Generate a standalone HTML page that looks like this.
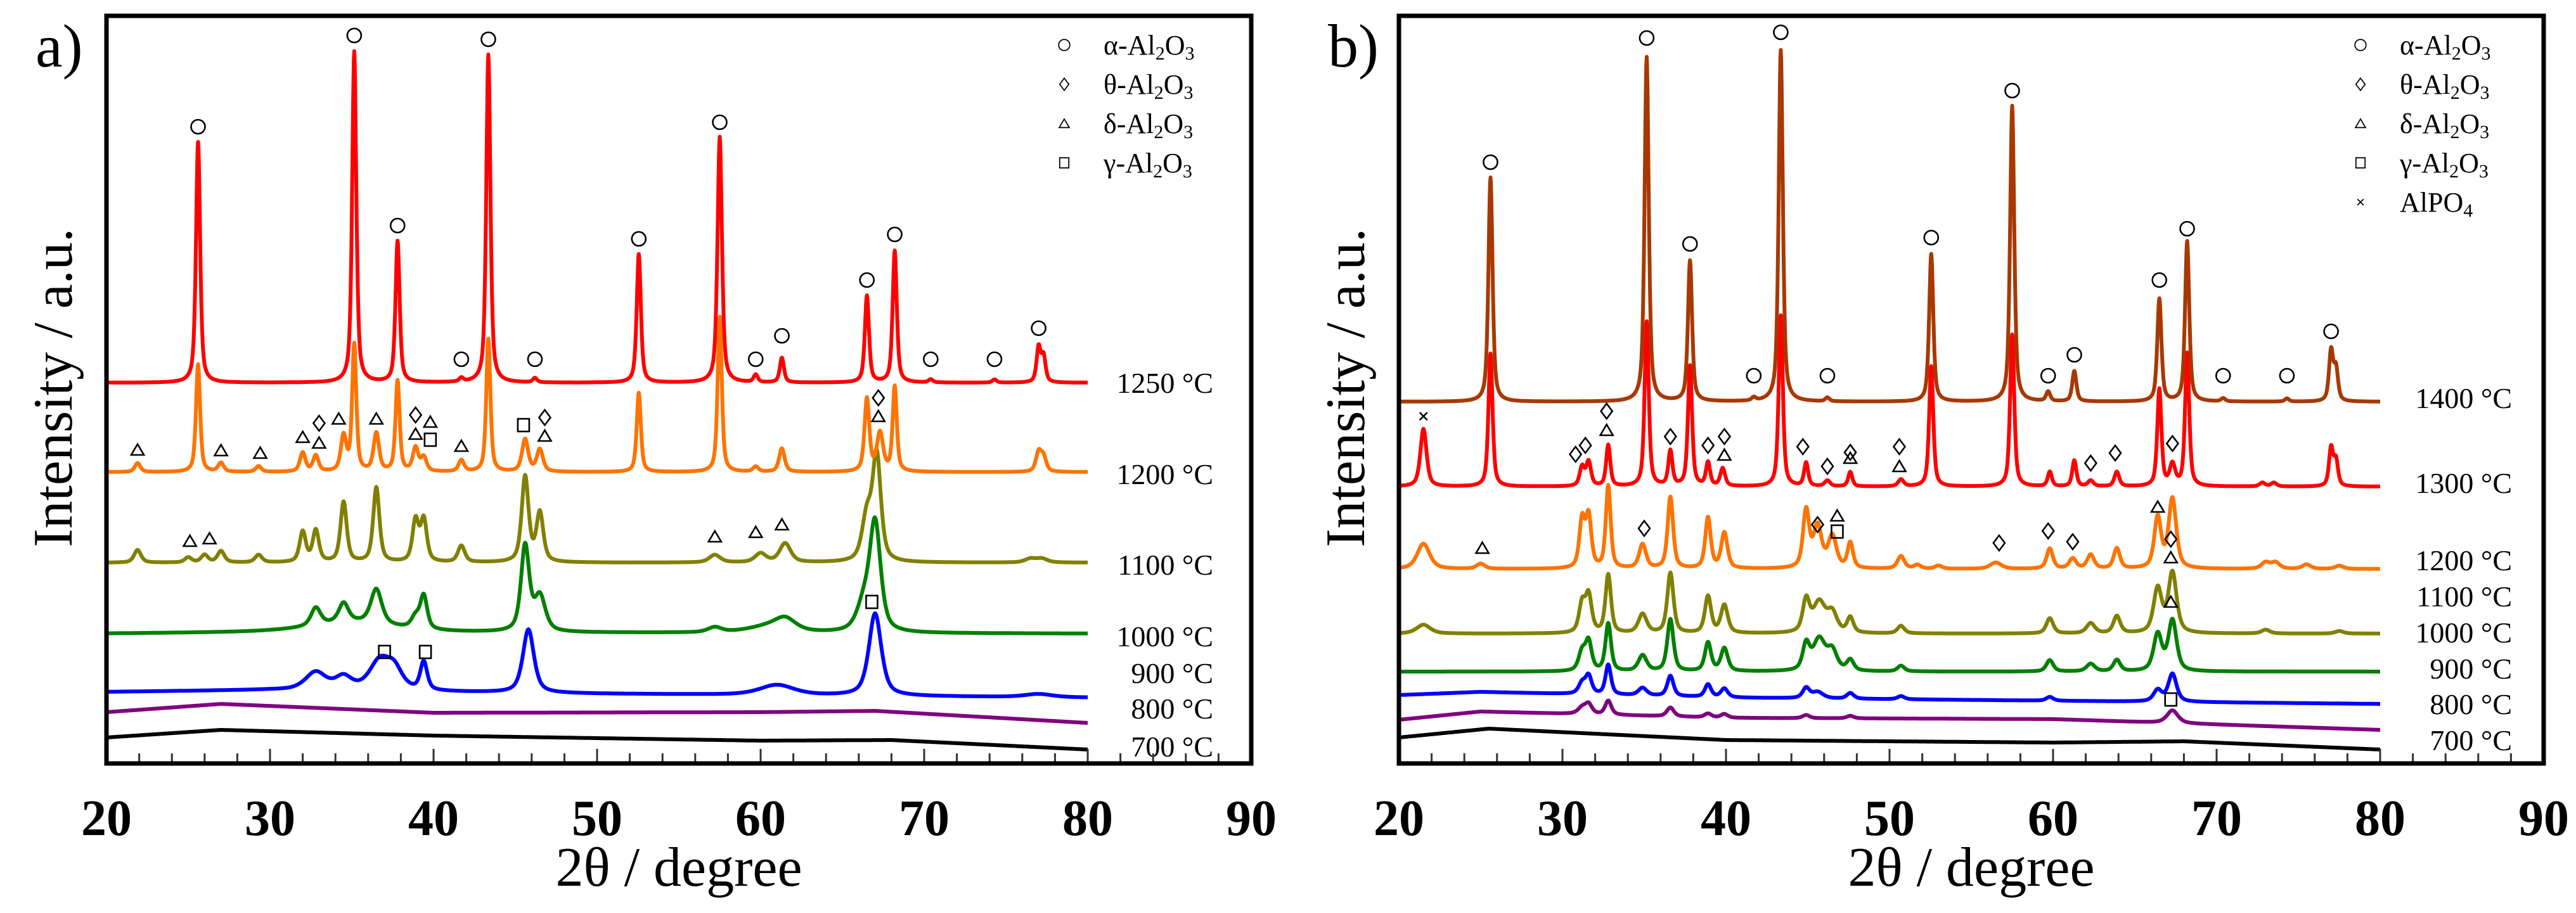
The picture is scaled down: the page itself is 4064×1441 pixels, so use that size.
<!DOCTYPE html>
<html><head><meta charset="utf-8">
<style>
html,body{margin:0;padding:0;background:#fff;}
svg{display:block;font-family:"Liberation Serif","Times New Roman",serif;}
</style></head>
<body>
<svg id="chart" width="4064" height="1441" viewBox="0 0 4064 1441" xmlns="http://www.w3.org/2000/svg">
<rect x="0" y="0" width="4064" height="1441" fill="#fff"/>
</svg>
<script>
// ===== Data: panel a =====
const aTemps = ["1250 °C","1200 °C","1100 °C","1000 °C","900 °C","800 °C","700 °C"];
const aColors = ["#ff0000","#ff7300","#808000","#008000","#0000ff","#800080","#000000"];
const a1250Peaks = [[25.6,380,.3],[35.15,523,.3],[37.8,223,.3],[41.7,6,.3],[43.35,518,.3],[46.2,7,.3],[52.55,203,.3],[57.5,388,.32],[59.7,12,.3],[61.3,39,.3],[66.5,137,.3],[68.2,208,.3],[70.4,5,.3],[74.3,5,.3],[77.0,55,.3],[77.3,40,.3]];
const a1200Peaks = [[21.9,14,.4],[25.6,170,.3],[27,14,.4],[29.3,9,.4],[32,30,.4],[32.8,25,.4],[34.5,55,.4],[35.15,200,.3],[36.5,60,.4],[37.8,143,.3],[38.9,37,.4],[39.4,22,.4],[41.7,18,.4],[43.35,210,.3],[45.6,51,.45],[46.5,35,.45],[52.55,125,.3],[57.5,245,.3],[59.7,8,.4],[61.3,37,.4],[66.5,115,.35],[67.3,60,.45],[68.2,134,.3],[77,30,.4],[77.3,22,.4]];
const a1100Peaks = [[21.9,20,.5],[25,8,.5],[26,12,.5],[27,18,.5],[29.3,12,.5],[32,48,.45],[32.8,50,.45],[34.5,95,.45],[36.5,118,.45],[38.9,65,.45],[39.4,66,.45],[41.7,26,.5],[45.6,135,.5],[46.5,77,.5],[57.2,12,.8],[60,14,.8],[61.5,30,.8],[66.5,70,.7],[67.1,165,.6],[76.5,6,.8],[77.2,6,.8]];
const a1000Peaks = [[35,16,6],[32.8,28,.7],[34.5,30,.7],[36.5,55,.8],[38.9,18,.6],[39.4,52,.5],[45.6,135,.6],[46.5,55,.8],[57.2,8,1],[61.5,18,1.5],[60.5,10,3],[67.0,170,.8],[66.3,40,1]];
const a900Peaks = [[32.8,28,1.5],[34.5,20,1.2],[36.7,45,1.5],[37.6,30,1.2],[39.4,45,.5],[45.8,100,.8],[61,16,2.5],[67,130,.9],[77,5,2]];
const a800Peaks = [];
const a700Peaks = [];
const a1250Bg = [[20,601],[80,601]];
const a1200Bg = [[20,460],[80,460]];
const a1100Bg = [[20,317],[80,317]];
const a1000Bg = [[20,205],[30,207],[80,205]];
const a900Bg = [[20,113],[30,116],[50,110],[80,104]];
const a800Bg = [[20,81],[27,94],[40,80],[60,81],[67,83],[80,64]];
const a700Bg = [[20,41],[27,53],[40,44],[60,36],[68,37],[80,22]];
const aCircles = [[25.6,1005],[35.15,1149],[37.8,849],[41.7,638],[43.35,1143],[46.2,638],[52.55,828],[57.5,1012],[59.7,638],[61.3,675],[66.5,763],[68.2,835],[70.4,638],[74.3,638],[77,687]];
const aTriangles = [[21.9,495],[27.0,494],[29.4,490],[32.0,515],[33.0,506],[34.2,544],[36.5,544],[38.9,520],[39.8,539],[41.7,501],[46.8,517],[67.2,548],[25.1,351],[26.3,355],[57.2,358],[59.7,365],[61.3,377]];
const aDiamonds = [[33.0,537],[38.9,550],[46.8,546],[67.2,577]];
const aSquares = [[39.8,511],[45.5,534],[66.8,255],[37.0,176],[39.5,176]];

// ===== Data: panel b =====
const bTemps = ["1400 °C","1300 °C","1200 °C","1100 °C","1000 °C","900 °C","800 °C","700 °C"];
const bColors = ["#a83800","#ff0000","#ff7300","#808000","#008000","#0000ff","#800080","#000000"];
const b1400Peaks = [[25.6,354,.3],[35.15,544,.3],[37.8,222,.3],[41.7,5,.3],[43.35,555,.3],[46.2,6,.3],[52.55,233,.3],[57.5,467,.3],[59.7,15,.3],[61.3,48,.3],[66.5,162,.3],[68.2,253,.3],[70.4,5,.3],[74.3,5,.3],[77,79,.3],[77.3,50,.3]];
const b1300Peaks = [[21.5,91,.45],[25.6,210,.3],[31.2,30,.35],[31.6,38,.35],[32.8,65,.3],[35.15,260,.3],[36.6,55,.3],[37.8,190,.3],[38.9,37,.3],[39.8,28,.35],[43.35,270,.3],[44.9,37,.3],[46.2,9,.4],[47.6,23,.3],[50.7,11,.4],[52.55,190,.3],[57.5,240,.3],[59.8,23,.3],[61.3,41,.3],[62.3,9,.4],[63.9,23,.35],[66.5,153,.3],[67.3,33,.4],[68.2,210,.3],[72.8,6,.4],[73.5,6,.4],[77,60,.3],[77.3,40,.3]];
const b1200Peaks = [[21.5,40,.9],[25,8,.6],[31.2,75,.4],[31.6,80,.4],[32.8,130,.35],[34.9,38,.5],[36.6,113,.4],[38.9,80,.4],[39.9,56,.45],[44.9,90,.45],[45.6,65,.6],[46.5,50,.6],[47.6,40,.4],[50.7,20,.5],[51.7,6,.5],[53,5,.5],[56.5,10,.8],[59.8,32,.45],[61.2,16,.5],[62.3,22,.5],[63.9,32,.45],[66.4,80,.5],[67.3,110,.55],[73,10,.6],[73.6,10,.6],[75.5,7,.6],[77.5,5,.6]];
const b1100Peaks = [[21.5,14,1],[31.2,45,.45],[31.6,58,.45],[32.8,92,.4],[34.9,30,.6],[36.6,95,.45],[38.9,58,.45],[39.9,44,.5],[44.9,50,.5],[45.7,48,.9],[46.5,30,.7],[47.6,24,.45],[50.7,12,.5],[59.8,24,.5],[62.3,16,.6],[63.9,27,.5],[66.4,70,.6],[67.3,95,.6],[73,6,.6],[77.5,4,.6]];
const b1000Peaks = [[31.2,30,.5],[31.6,45,.45],[32.8,75,.4],[34.9,25,.6],[36.6,82,.45],[38.9,45,.45],[39.9,36,.5],[44.9,40,.5],[45.7,50,.9],[46.5,30,.7],[47.6,17,.5],[50.7,9,.5],[59.8,18,.5],[62.3,12,.6],[63.9,18,.5],[66.4,58,.6],[67.3,80,.6]];
const b900Peaks = [[31.2,17,.5],[31.6,28,.45],[32.8,47,.4],[34.9,12,.6],[36.6,32,.45],[38.9,20,.45],[39.9,14,.5],[44.9,16,.5],[45.6,10,.8],[47.6,9,.5],[50.7,5,.5],[59.8,6,.5],[66.4,18,.6],[67.3,44,.6]];
const b800Peaks = [[31.2,10,.6],[31.6,15,.5],[32.8,22,.45],[36.6,14,.5],[38.9,6,.5],[39.9,6,.5],[44.9,5,.5],[47.6,4,.5],[67.3,20,.8]];
const b700Peaks = [];
const b1400Bg = [[20,571],[80,571]];
const b1300Bg = [[20,437],[80,437]];
const b1200Bg = [[20,307],[80,307]];
const b1100Bg = [[20,205],[80,205]];
const b1000Bg = [[20,145],[80,145]];
const b900Bg = [[20,108],[25,113],[40,104],[80,94]];
const b800Bg = [[20,69],[25,82],[40,72],[60,70],[80,53]];
const b700Bg = [[20,41],[25.5,55],[40,37],[60,33],[68,35],[80,22]];
const bCircles = [[25.6,949],[35.15,1145],[37.8,820],[41.7,612],[43.35,1154],[46.2,612],[52.55,830],[57.5,1062],[59.7,612],[61.3,645],[66.5,763],[68.2,844],[70.4,612],[74.3,612],[77,682]];
const bCrosses = [[21.5,548]];
const bDiamonds = [[30.8,488],[31.4,502],[32.7,556],[36.6,516],[38.9,502],[39.9,516],[44.7,500],[46.2,469],[47.6,491],[50.6,500],[62.3,474],[63.8,490],[67.3,505],[35.0,371],[45.6,377],[56.7,348],[59.7,367],[61.2,350],[67.2,354]];
const bTriangles = [[32.7,526],[39.9,487],[47.6,482],[50.6,469],[25.1,340],[46.8,391],[66.4,405],[67.2,325],[67.2,255]];
const bSquares = [[46.8,366],[67.2,101]];

const xTicks = [20,30,40,50,60,70,80,90];
const legendA = ["α","θ","δ","γ"];
const legendB = ["α","θ","δ","γ","AlPO4"];

// ===== Rendering =====
const NS = "http://www.w3.org/2000/svg";
const svg = document.getElementById("chart");
function mk(tag, attrs, parent){const e=document.createElementNS(NS,tag);for(const k in attrs)e.setAttribute(k,attrs[k]);(parent||svg).appendChild(e);return e;}
const PLOT_TOP=25, PLOT_BOTTOM=1205;
function yScale(v){return PLOT_BOTTOM - v;}
function makeX(left){return d => left + (d-20)*(1806/70);}
function profile(x, p){const d=(x-p[0])/(p[2]/2);const L=1/(1+d*d);const G=Math.exp(-0.693*d*d);return p[1]*(0.6*L+0.4*G);}
function bgAt(x,bg){for(let i=0;i<bg.length-1;i++){if(x>=bg[i][0]&&x<=bg[i+1][0]){const t=(x-bg[i][0])/(bg[i+1][0]-bg[i][0]);return bg[i][1]+t*(bg[i+1][1]-bg[i][1]);}}return bg[bg.length-1][1];}

function drawPanel(cfg){
  const X = makeX(cfg.left);
  const g = mk("g",{});
  
  
  for(let s=cfg.series.length-1;s>=0;s--){
    const peaks=cfg.series[s], bg=cfg.bgs[s];
    let d="";
    for(let x=20;x<=80.0001;x+=0.025){
      let v=bgAt(x,bg);
      for(const p of peaks){ if(Math.abs(x-p[0])<p[2]*25) v+=profile(x,p); }
      d+=(d?"L":"M")+X(x).toFixed(1)+","+yScale(v).toFixed(1);
    }
    const path=mk("path",{d:d,fill:"none",stroke:cfg.colors[s],"stroke-width":6,"stroke-linejoin":"round"},g);
    
    
    const lab=mk("text",{x:cfg.labelX,y:cfg.labelY[s],"font-size":46,"text-anchor":"end",fill:"#000"},g);
    lab.textContent=cfg.temps[s];
    
    
  }
  const mg=mk("g",{fill:"none",stroke:"#000","stroke-width":2.6},g);
  
  
  function circle(x,y,p){const c=mk("circle",{cx:x,cy:y,r:11},p);}
  function tri(x,y,p){const c=mk("path",{d:`M${x-10},${y+8}L${x},${y-9}L${x+10},${y+8}Z`},p);}
  function dia(x,y,p){const c=mk("path",{d:`M${x},${y-12}L${x+9},${y}L${x},${y+12}L${x-9},${y}Z`},p);}
  function sq(x,y,p){const c=mk("rect",{x:x-9,y:y-10,width:18,height:20},p);}
  function cross(x,y,p){const c=mk("path",{d:`M${x-6},${y-6}L${x+6},${y+6}M${x+6},${y-6}L${x-6},${y+6}`},p);}
  cfg.circles.forEach(m=>circle(X(m[0]),yScale(m[1]),mg));
  cfg.triangles.forEach(m=>tri(X(m[0]),yScale(m[1]),mg));
  cfg.diamonds.forEach(m=>dia(X(m[0]),yScale(m[1]),mg));
  cfg.squares.forEach(m=>sq(X(m[0]),yScale(m[1]),mg));
  (cfg.crosses||[]).forEach(m=>cross(X(m[0]),yScale(m[1]),mg));
  const lg=mk("g",{},g);
  
  
  const symX=cfg.legendX, txtX=cfg.legendX+62;
  const syms=[circle,dia,tri,sq,cross];
  cfg.legend.forEach((nm,i)=>{
    const y=71+i*62;
    const sg=mk("g",{fill:"none",stroke:"#000","stroke-width":2.2,transform:`translate(${symX},${y}) scale(0.8) translate(${-symX},${-y})`},lg);
    syms[i](symX,y,sg);
    const t=mk("text",{x:txtX,y:y+15,"font-size":44,fill:"#000"},lg);
    
    
    if(nm==="AlPO4"){t.innerHTML='AlPO<tspan font-size="30" dy="8">4</tspan>';}
    else{t.innerHTML=nm+'-Al<tspan font-size="30" dy="8">2</tspan><tspan dy="-8">O</tspan><tspan font-size="30" dy="8">3</tspan>';}
  });
  const tg=mk("g",{stroke:"#333","stroke-width":3},g);
  
  
  for(let d=22;d<90;d+=2){const len=(d%10===0)?23:16;mk("line",{x1:X(d),x2:X(d),y1:PLOT_BOTTOM,y2:PLOT_BOTTOM-len},tg);}
  xTicks.forEach(v=>{const t=mk("text",{x:X(v),y:1318,"font-size":80,"font-weight":"bold","text-anchor":"middle",fill:"#000"},g);t.textContent=v;});
  const fr=mk("rect",{x:cfg.left,y:PLOT_TOP,width:1806,height:PLOT_BOTTOM-PLOT_TOP,fill:"none",stroke:"#000","stroke-width":7},g);
  
  
  const xt=mk("text",{x:cfg.left+903,y:1398,"font-size":88,"text-anchor":"middle",fill:"#000"},g);
  xt.textContent="2θ / degree";
  
  
  const yt=mk("text",{x:0,y:0,"font-size":88,"text-anchor":"middle",fill:"#000",transform:`translate(${cfg.left-55},612) rotate(-90)`},g);
  yt.textContent="Intensity / a.u.";
  
  
  const pl=mk("text",{x:cfg.left-112,y:105,"font-size":96,fill:"#000"},g);
  pl.textContent=cfg.panel;
  
  
}

drawPanel({name:"panel-a",panel:"a)",left:168,labelX:1914,
  labelY:[620,764,907,1020,1078,1134,1194],
  temps:aTemps,colors:aColors,
  series:[a1250Peaks,a1200Peaks,a1100Peaks,a1000Peaks,a900Peaks,a800Peaks,a700Peaks],
  bgs:[a1250Bg,a1200Bg,a1100Bg,a1000Bg,a900Bg,a800Bg,a700Bg],
  circles:aCircles,triangles:aTriangles,diamonds:aDiamonds,squares:aSquares,
  legend:legendA,legendX:1679});
drawPanel({name:"panel-b",panel:"b)",left:2207,labelX:3963,
  labelY:[644,778,900,957,1014,1071,1127,1184],
  temps:bTemps,colors:bColors,
  series:[b1400Peaks,b1300Peaks,b1200Peaks,b1100Peaks,b1000Peaks,b900Peaks,b800Peaks,b700Peaks],
  bgs:[b1400Bg,b1300Bg,b1200Bg,b1100Bg,b1000Bg,b900Bg,b800Bg,b700Bg],
  circles:bCircles,triangles:bTriangles,diamonds:bDiamonds,squares:bSquares,crosses:bCrosses,
  legend:legendB,legendX:3724});
</script>
</body></html>
